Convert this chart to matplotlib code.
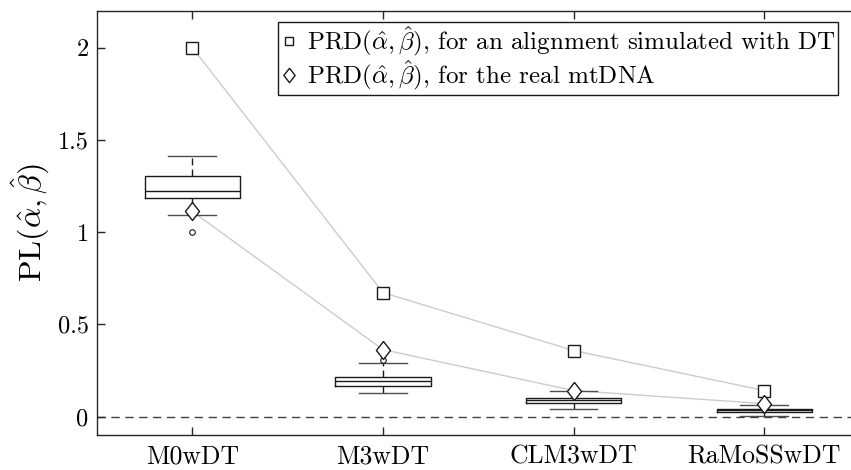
import matplotlib
matplotlib.use("Agg")
import matplotlib.pyplot as plt
import numpy as np

plt.rcParams['font.family'] = 'cmr10'
plt.rcParams['mathtext.fontset'] = 'cm'
plt.rcParams['axes.formatter.use_mathtext'] = True

# data
models = ["M0wDT", "M3wDT", "CLM3wDT", "RaMoSSwDT"]
q1 = [1.182, 0.168, 0.076, 0.027]
med = [1.220, 0.195, 0.089, 0.035]
q3 = [1.302, 0.217, 0.103, 0.043]
whislo = [1.09, 0.125, 0.043, 0.005]
whishi = [1.41, 0.293, 0.136, 0.060]
fliers = [[0.998], [0.309], [], []]
prd_sim = [2.0, 0.672, 0.358, 0.141]
prd_real = [1.112, 0.363, 0.141, 0.070]
yticks = [0, 0.5, 1, 1.5, 2]
yticklabels = ["0", "0.5", "1", "1.5", "2"]

pos = np.arange(1, len(models) + 1)

fig = plt.figure(figsize=(8.51, 4.70), dpi=100)
ax = fig.add_axes([97/851, 35/470, 762.5/851, 424.3/470])

stats = []
for i in range(len(models)):
    stats.append(dict(med=med[i], q1=q1[i], q3=q3[i], whislo=whislo[i],
                      whishi=whishi[i], fliers=fliers[i]))

ax.axhline(0, color='0.25', linestyle=(0, (6, 4)), linewidth=1, zorder=1)

ax.plot(pos, prd_sim, color='0.8', linewidth=1, zorder=2)
ax.plot(pos, prd_real, color='0.8', linewidth=1, zorder=2)

ax.bxp(stats, positions=pos, widths=0.5, capwidths=0.25, manage_ticks=False,
       boxprops=dict(color='0.1', linewidth=1),
       medianprops=dict(color='0.1', linewidth=1),
       whiskerprops=dict(color='0.1', linewidth=1, linestyle=(0, (5, 3))),
       capprops=dict(color='0.3', linewidth=1),
       flierprops=dict(marker='o', markersize=4, markerfacecolor='none',
                       markeredgecolor='0.1', markeredgewidth=0.8),
       zorder=3)

diamond = [(0, 1), (0.78, 0), (0, -1), (-0.78, 0), (0, 1)]
ax.plot(pos, prd_sim, linestyle='none', marker='s', markersize=8,
        markerfacecolor='white', markeredgecolor='0.1', markeredgewidth=1,
        zorder=4, label=r"PRD$(\hat{\alpha},\hat{\beta})$, for an alignment simulated with DT")
ax.plot(pos, prd_real, linestyle='none', marker=diamond, markersize=13,
        markerfacecolor='white', markeredgecolor='0.1', markeredgewidth=1,
        zorder=4, label=r"PRD$(\hat{\alpha},\hat{\beta})$, for the real mtDNA")

ax.set_xlim(0.5, 4.5)
ax.set_ylim(-0.1, 2.2)
ax.set_xticks(pos)
ax.set_xticklabels(models, fontsize=18.5)
ax.set_yticks(yticks)
ax.set_yticklabels(yticklabels, fontsize=17.5)
ax.tick_params(direction='in', length=6, width=1, color='0.15', top=True, pad=7)
ax.tick_params(axis='y', pad=6)
for s in ax.spines.values():
    s.set_color('0.15')
    s.set_linewidth(1)
ax.set_ylabel(r"PL$(\hat{\alpha},\hat{\beta})$", fontsize=23)

leg = ax.legend(loc='upper right', bbox_to_anchor=(0.972, 0.973), borderaxespad=0,
                fontsize=18, fancybox=False, framealpha=1, edgecolor='0.1',
                handlelength=0.7, handletextpad=0.35, borderpad=0.1,
                labelspacing=0.0)
leg.get_frame().set_linewidth(1)
for h in leg.legend_handles:
    h.set_markersize(h.get_markersize() * 0.8)

fig.savefig("out.png", dpi=100)
